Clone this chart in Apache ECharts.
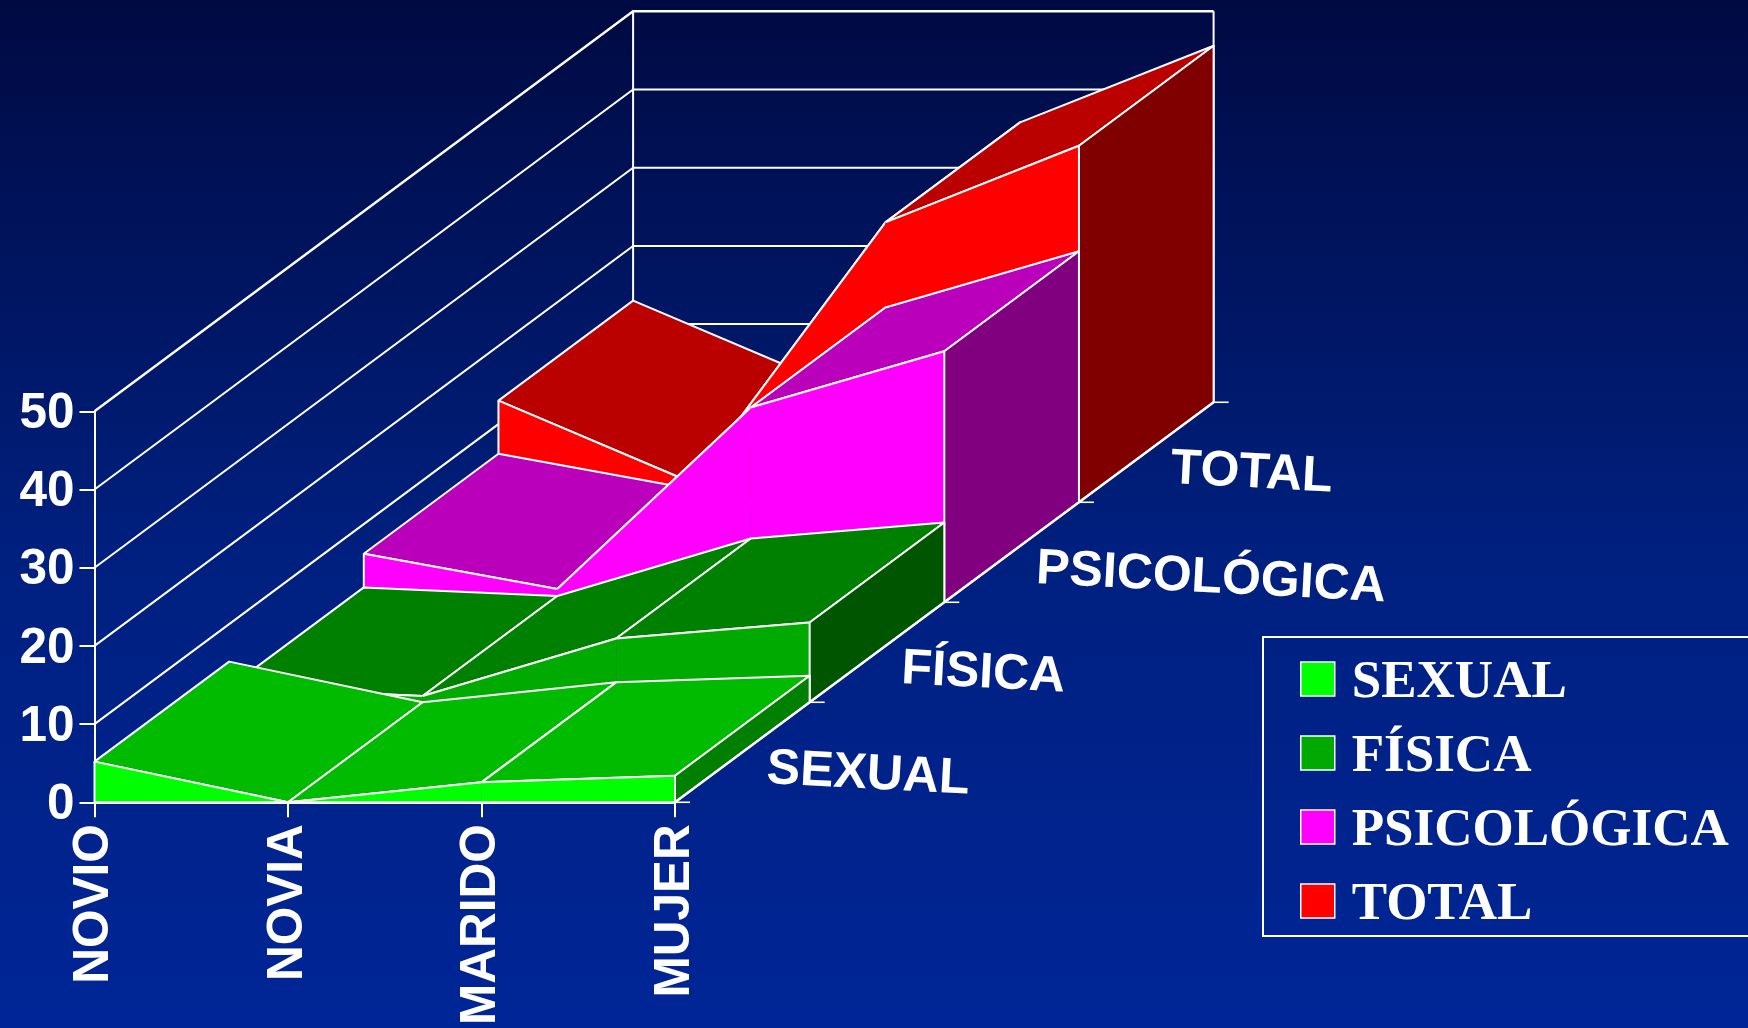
<!DOCTYPE html>
<html>
<head>
<meta charset="utf-8">
<style>html,body{margin:0;padding:0;background:#001a70}#c{width:1748px;height:1028px}</style>
<script src="https://cdn.jsdelivr.net/npm/echarts@6/dist/echarts.min.js"></script>
</head>
<body>
<div id="c"></div>
<script>
const categories = ['NOVIO', 'NOVIA', 'MARIDO', 'MUJER'];
const depthNames = ['SEXUAL', 'FÍSICA', 'PSICOLÓGICA', 'TOTAL'];
const sexual = [5.2, 0, 2.55, 3.4];
const fisica = [1.9, 0.8, 8.15, 10.2];
const psicologica = [6.2, 1.7, 24.9, 32.1];
const total = [13.0, 2.5, 35.8, 45.6];
const yTicks = [0, 10, 20, 30, 40, 50];

const DX = 134.65, DY = -100;
const WHITE = '#ffffff';
const EDGE = 2;
const shades = {
  'SEXUAL': ['#00ff00', '#00bb00', '#007f00'],
  'FÍSICA': ['#00aa00', '#008000', '#005500'],
  'PSICOLÓGICA': ['#ff00ff', '#bb00bb', '#800080'],
  'TOTAL': ['#ff0000', '#bb0000', '#800000']
};
const rows = [sexual, fisica, psicologica, total];

function at(api, i, v, d) {
  const p = api.coord([i, v]);
  return [p[0] + DX * d, p[1] + DY * d];
}
function poly(points, fill) {
  return { type: 'polygon', shape: { points }, style: { fill, stroke: WHITE, lineWidth: EDGE, lineJoin: 'round' } };
}
function plain(points, fill) {
  return { type: 'polygon', shape: { points }, style: { fill, stroke: fill, lineWidth: 0.5 } };
}
function line(points, w) {
  return { type: 'polyline', shape: { points }, style: { fill: 'none', stroke: WHITE, lineWidth: w, lineJoin: 'miter' } };
}

function ribbon(d) {
  const name = depthNames[d], vals = rows[d], c = shades[name], n = vals.length - 1;
  return {
    name, type: 'custom', coordinateSystem: 'cartesian2d', silent: true,
    itemStyle: { color: c[0] }, encode: { x: 0, y: 1 },
    data: vals.map((v, i) => [i, v]),
    renderItem(params, api) {
      const i = params.dataIndex, children = [];
      if (i < n) {
        const a0 = at(api, i, 0, d), a = at(api, i, vals[i], d), b = at(api, i + 1, vals[i + 1], d), b0 = at(api, i + 1, 0, d);
        children.push(poly([a, at(api, i, vals[i], d + 1), at(api, i + 1, vals[i + 1], d + 1), b], c[1]));
        children.push(plain([a0, a, b, b0], c[0]));
        children.push(line([a, b], EDGE));
        children.push(line([a0, b0], EDGE));
        if (i === 0) children.push(line([a0, a], EDGE));
      } else {
        children.push(poly([at(api, i, 0, d), at(api, i, vals[i], d), at(api, i, vals[i], d + 1), at(api, i, 0, d + 1)], c[2]));
      }
      return { type: 'group', children };
    }
  };
}

const last = categories.length - 1, nD = depthNames.length;
const wall = {
  name: 'wall', type: 'custom', coordinateSystem: 'cartesian2d', silent: true,
  encode: { x: 0, y: 1 },
  data: yTicks.map(v => [0, v]),
  renderItem(params, api) {
    const v = yTicks[params.dataIndex], top = yTicks[yTicks.length - 1];
    const children = [line([at(api, 0, v, 0), at(api, 0, v, nD), at(api, last, v, nD)], v === top ? 2.4 : 2)];
    if (v === top) {
      children.push(line([at(api, 0, 0, nD), at(api, 0, top, nD)], 2));
      children.push(line([at(api, last, 0, nD), at(api, last, top, nD)], 2));
    }
    return { type: 'group', children };
  }
};
const depthAxis = {
  name: 'depth', type: 'custom', coordinateSystem: 'cartesian2d', silent: true,
  encode: { x: 0, y: 1 },
  data: depthNames.map((n, d) => [last, 0]),
  renderItem(params, api) {
    const d = params.dataIndex, children = [];
    const p = at(api, last, 0, d + 1), mid = at(api, last, 0, d + 0.5);
    if (d === 0) {
      const p0 = at(api, last, 0, 0);
      children.push(line([p0, [p0[0] + 15, p0[1]]], 1.6));
    }
    children.push(line([at(api, last, 0, d), p], 2.4));
    children.push(line([p, [p[0] + 15, p[1]]], 1.6));
    children.push({
      type: 'text', x: mid[0] + 24.5, y: mid[1] + 17, rotation: -3 * Math.PI / 180,
      style: { text: depthNames[d], fill: WHITE, font: 'bold 50px "Liberation Sans"', align: 'left', verticalAlign: 'middle' }
    });
    return { type: 'group', children };
  }
};

const chart = echarts.init(document.getElementById('c'), null, { renderer: 'canvas' });
chart.setOption({
  animation: false,
  backgroundColor: new echarts.graphic.LinearGradient(0, 0, 0, 1, [
    { offset: 0, color: '#000a42' },
    { offset: 0.55, color: '#002080' },
    { offset: 1, color: '#002596' }
  ]),
  grid: { left: 94.5, top: 411.3, width: 580.5, height: 392 },
  xAxis: {
    type: 'category', data: categories, boundaryGap: false,
    axisLine: { show: true, lineStyle: { color: WHITE, width: 2 } },
    axisTick: { show: true, length: 15, alignWithLabel: true, lineStyle: { color: WHITE, width: 2 } },
    axisLabel: { interval: 0, rotate: 90, margin: 22, color: WHITE, fontFamily: 'Liberation Sans', fontWeight: 'bold', fontSize: 49.5 },
    splitLine: { show: false }
  },
  yAxis: {
    type: 'value', min: 0, max: 50, interval: 10,
    axisLine: { show: true, lineStyle: { color: WHITE, width: 2 } },
    axisTick: { show: true, length: 15, lineStyle: { color: WHITE, width: 2 } },
    axisLabel: {
      margin: 20, formatter: '{a|{value}}',
      rich: { a: { color: WHITE, fontFamily: 'Liberation Sans', fontWeight: 'bold', fontSize: 49.5, padding: [6, 0, 0, 0] } }
    },
    splitLine: { show: false }
  },
  legend: {
    orient: 'vertical', left: 1263, top: 637, selectedMode: false,
    data: depthNames.map(n => ({ name: n, icon: 'rect' })),
    itemWidth: 34, itemHeight: 34, itemGap: 12,
    padding: [11, 120, 4, 37],
    borderColor: WHITE, borderWidth: 2,
    itemStyle: { borderColor: WHITE, borderWidth: 1.5 },
    formatter: n => '{a|' + n + '}',
    textStyle: {
      rich: { a: { color: WHITE, fontFamily: 'Liberation Serif', fontWeight: 'bold', fontSize: 53, lineHeight: 54, padding: [9, 0, 0, 12] } }
    }
  },
  series: [wall, ribbon(3), ribbon(2), ribbon(1), ribbon(0), depthAxis]
});
</script>
</body>
</html>
